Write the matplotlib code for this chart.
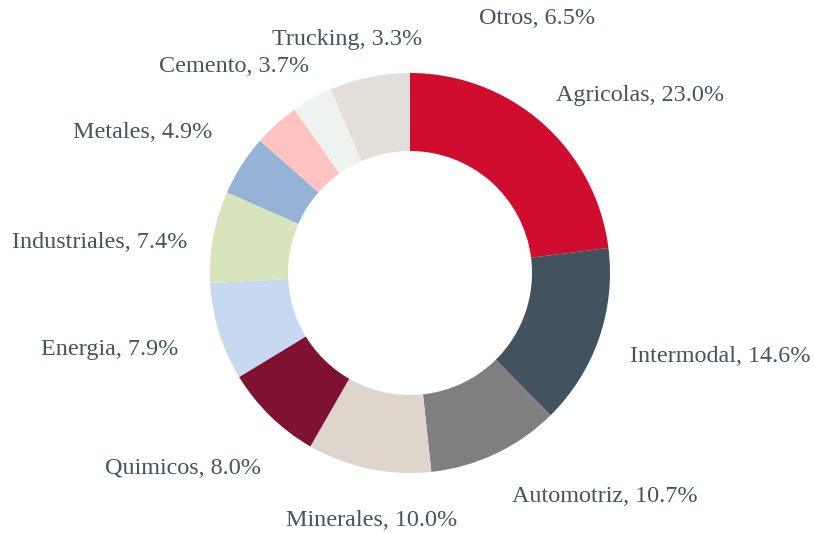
import matplotlib
matplotlib.use("Agg")
import matplotlib.pyplot as plt

# ============================================================
# DATA
# ============================================================

categories = ["Agricolas", "Intermodal", "Automotriz", "Minerales", "Quimicos",
              "Energia", "Industriales", "Metales", "Cemento", "Trucking", "Otros"]
shares = [23.0, 14.6, 10.7, 10.0, 8.0, 7.9, 7.4, 4.9, 3.7, 3.3, 6.5]

colors = ["#D00C2F", "#42535F", "#7F7F7F", "#DED6CD", "#7E1230",
          "#C6D9F0", "#D8E4BC", "#95B3D7", "#FFC4C2", "#EFF3F0", "#E3DFD8"]

# label centres in pixels of the 814x533 image
label_px = [(640, 95), (720, 357), (605, 497), (372, 520), (183, 469),
            (110, 349), (100, 243), (143, 132), (234, 66), (347, 39), (537, 18)]

TEXT_COLOR = "#435561"
CX, CY, R = 410, 273, 200  # pie centre and radius in pixels

plt.rcParams['font.family'] = ['Liberation Serif', 'DejaVu Serif']

# ============================================================
# PLOT
# ============================================================

fig = plt.figure(figsize=(8.14, 5.33), dpi=100)
ax = fig.add_axes([0, 0, 1, 1])

ax.pie(shares, colors=colors, startangle=90, counterclock=False, radius=1,
       wedgeprops=dict(width=0.39, edgecolor='none'))

ax.set_xlim(-CX / R, (814 - CX) / R)
ax.set_ylim(-(533 - CY) / R, CY / R)
ax.set_aspect('equal')
ax.axis('off')

for cat, val, (px, py) in zip(categories, shares, label_px):
    ax.text((px - CX) / R, (CY - py) / R, f"{cat}, {val:.1f}%",
            ha='center', va='center', fontsize=17.4, color=TEXT_COLOR)

fig.savefig("out.png", dpi=100)
